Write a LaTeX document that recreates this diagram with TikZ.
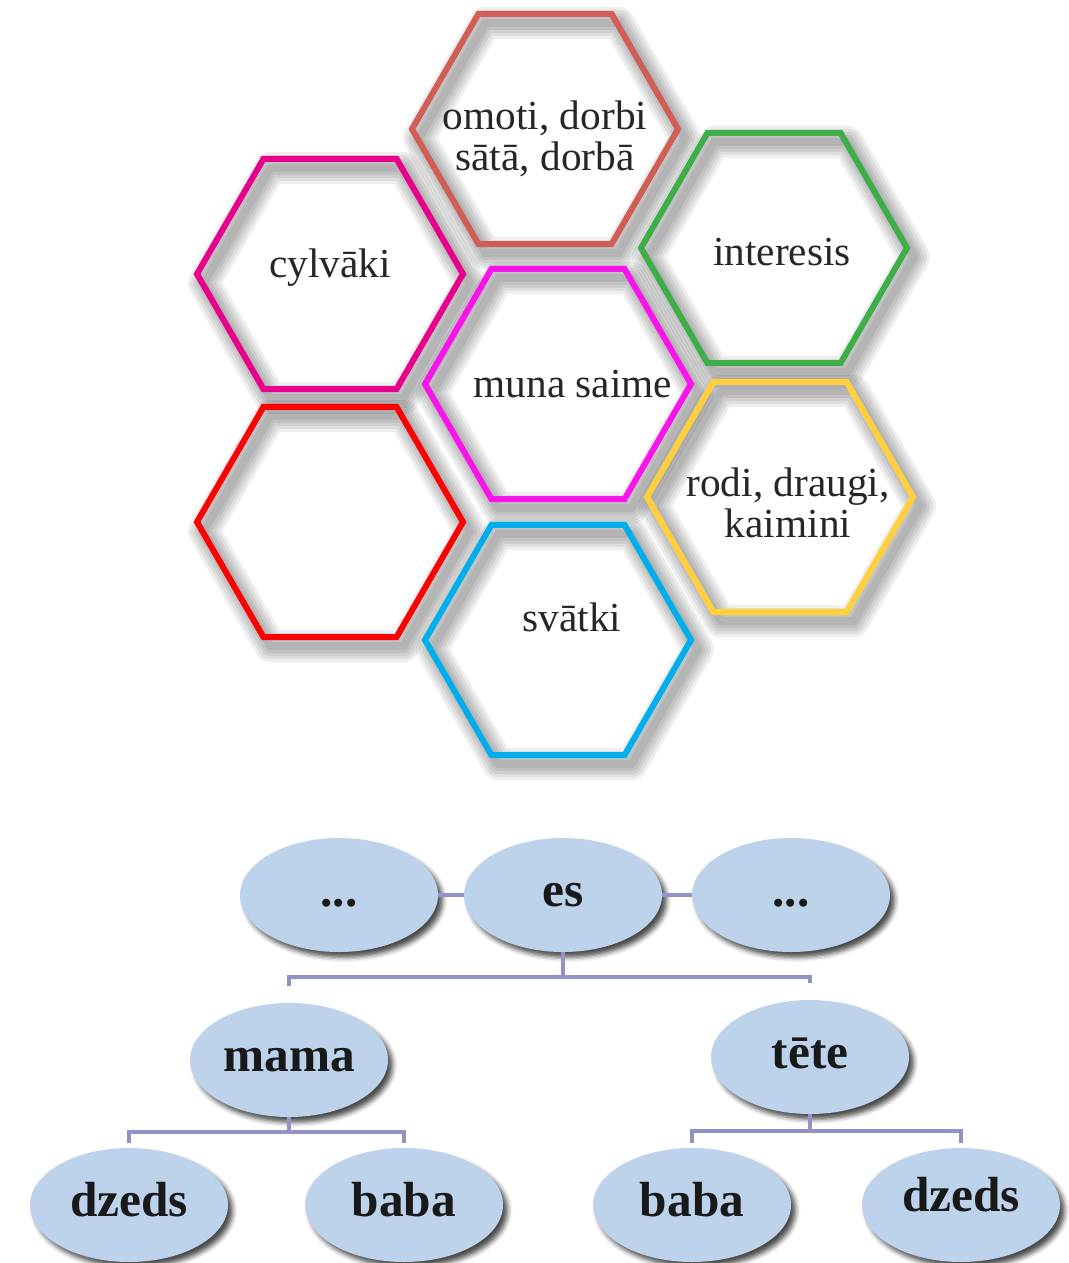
\documentclass[tikz,border=0pt]{standalone}
\usepackage{fontspec}
\setmainfont{Liberation Serif}
\usetikzlibrary{shapes.geometric, calc, shadows.blur}

\definecolor{omotiC}{RGB}{208,94,86}
\definecolor{cylvC}{RGB}{232,0,140}
\definecolor{intC}{RGB}{62,174,73}
\definecolor{saimeC}{RGB}{250,20,235}
\definecolor{tukssC}{RGB}{255,0,0}
\definecolor{rodiC}{RGB}{255,208,60}
\definecolor{svatC}{RGB}{0,174,236}
\definecolor{ovalC}{RGB}{189,210,235}
\definecolor{linkC}{RGB}{146,146,198}

\begin{document}
\begin{tikzpicture}
[x=0.75pt, y=-0.75pt,
% STYLES
% The hexa style is used to draw the coloured frames
hexa/.style={regular polygon, regular polygon sides=6, minimum size=199.5pt, inner sep=0pt, outer sep=0pt, draw=#1, line width=4.5pt},
hexshade/.style={black, opacity=0.065, line width=#1, line join=round},
hextext/.style={font=\fontsize{31}{31}\selectfont, align=center, text=black!85},
% The oval style is used for the family tree
oval/.style={ellipse, fill=ovalC, minimum width=148.5pt, minimum height=85.5pt, inner sep=0pt, text height=20pt, text depth=3.5pt, text=black!90, font=\bfseries\fontsize{37}{40}\selectfont, blur shadow={shadow xshift=3.5pt, shadow yshift=-4pt, shadow blur radius=3.5pt, shadow opacity=70}},
link/.style={draw=linkC, line width=3.2pt}]

\useasboundingbox (0,0) rectangle (1069,1263);

% Draw hexagons (shadows first, then frames)
\foreach \n/\x/\y/\c in {omoti/545/129/omotiC, cylvaki/330/274/cylvC, interesis/774/248/intC, saime/558/384/saimeC, tukss/330/522/tukssC, rodi/780/497/rodiC, svatki/558/640/svatC}
  \foreach \w in {24,19.5,15,10.5,6}
    \draw [hexshade=\w pt] (\x+7,\y+9) ++(0:133) -- ++(120:133) -- ++(180:133) -- ++(240:133) -- ++(300:133) -- ++(0:133) -- cycle;

\foreach \n/\x/\y/\c in {omoti/545/129/omotiC, cylvaki/330/274/cylvC, interesis/774/248/intC, saime/558/384/saimeC, tukss/330/522/tukssC, rodi/780/497/rodiC, svatki/558/640/svatC}
  \node [hexa=\c] (\n) at (\x,\y) {};

\node [hextext] (omotitxt) at (545,139) {omoti, dorbi\\sātā, dorbā};
\node [hextext] (cylvakitxt) at (330,268) {cylvāki};
\node [hextext] (interesistxt) at (782,252) {interesis};
\node [hextext] (saimetxt) at (573,384) {muna saime};
\node [hextext] (roditxt) at (788,503) {rodi, draugi,\\kaimini};
\node [hextext] (svatkitxt) at (572,617) {svātki};

% Draw family tree
\node [oval] (dotsL) at (339,895) {...};
\node [oval] (es) at (563,895) {es};
\node [oval] (dotsR) at (791,895) {...};
\node [oval] (mama) at (289,1060) {mama};
\node [oval] (tete) at (810,1057) {tēte};
\node [oval] (dzedsL) at (129,1205) {dzeds};
\node [oval] (babaL) at (404,1205) {baba};
\node [oval] (babaR) at (692,1205) {baba};
\node [oval, text height=13pt] (dzedsR) at (961,1205) {dzeds};

\draw [link] (dotsL) -- (es);
\draw [link] (es) -- (dotsR);
\draw [link] (es.south) -- ++(0,25) coordinate (esfork);
\draw [link] ($(mama.north)+(0,-17)$) |- (esfork) -| ($(tete.north)+(0,-17)$);
\draw [link] (mama.south) -- ++(0,15) coordinate (mamafork);
\draw [link] ($(dzedsL.north)+(0,-5)$) |- (mamafork) -| ($(babaL.north)+(0,-5)$);
\draw [link] (tete.south) -- ++(0,17) coordinate (tetefork);
\draw [link] ($(babaR.north)+(0,-5)$) |- (tetefork) -| ($(dzedsR.north)+(0,-5)$);

\end{tikzpicture}
\end{document}
